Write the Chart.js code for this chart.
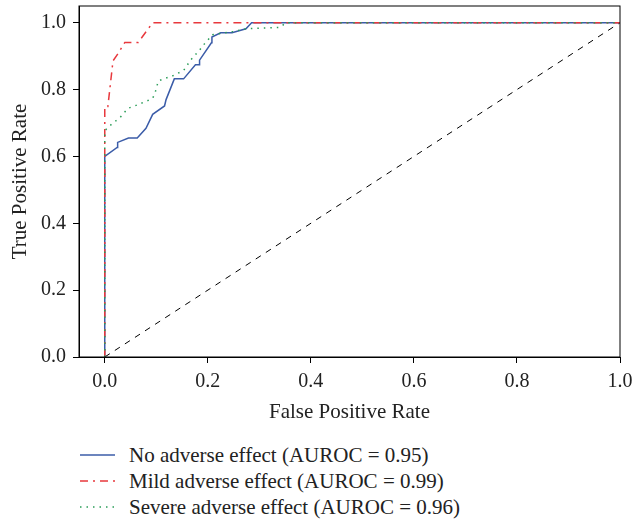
<!DOCTYPE html>
<html>
<head>
<meta charset="utf-8">
<script src="https://cdn.jsdelivr.net/npm/chart.js@4.4.0/dist/chart.umd.min.js"></script>
<style>
  body { margin: 0; background: #fff; overflow: hidden; }
  #wrap { position: relative; width: 632px; height: 522px; }
  #chartBox { position: absolute; left: 0; top: 0; width: 632px; height: 432px; }
  #legend { position: absolute; left: 80px; top: 442px; font-family: "Liberation Serif", serif; font-size: 21px; color: #222; }
  .row { height: 26px; line-height: 26px; white-space: nowrap; }
  .row svg { vertical-align: top; margin-right: 14px; }
</style>
</head>
<body>
<div id="wrap">
  <div id="chartBox"><canvas id="myChart"></canvas></div>
  <div id="legend"></div>
</div>
<script>
var fontFamily = '"Liberation Serif", "Times New Roman", serif';

var xTicks = [0, 0.2, 0.4, 0.6, 0.8, 1.0];
var yTicks = [0, 0.2, 0.4, 0.6, 0.8, 1.0];

var seriesNames = [
  'No adverse effect (AUROC = 0.95)',
  'Mild adverse effect (AUROC = 0.99)',
  'Severe adverse effect (AUROC = 0.96)'
];

// ROC points
var noFpr = [0, 0, 0.024, 0.025, 0.046, 0.063, 0.080, 0.093, 0.116, 0.119, 0.135, 0.153, 0.176, 0.183, 0.184, 0.207, 0.208, 0.225, 0.247, 0.274, 0.285, 1.0];
var noTpr = [0, 0.600, 0.627, 0.642, 0.655, 0.655, 0.684, 0.726, 0.751, 0.770, 0.832, 0.832, 0.874, 0.874, 0.888, 0.940, 0.957, 0.970, 0.970, 0.982, 1.0, 1.0];

var mildFpr = [0, 0, 0.006, 0.016, 0.025, 0.039, 0.065, 0.093, 1.0];
var mildTpr = [0, 0.749, 0.749, 0.886, 0.906, 0.941, 0.941, 1.0, 1.0];

var severeFpr = [0, 0, 0.010, 0.030, 0.045, 0.058, 0.082, 0.093, 0.098, 0.104, 0.122, 0.129, 0.142, 0.153, 0.160, 0.167, 0.184, 0.193, 0.209, 0.249, 0.275, 0.340, 0.352, 1.0];
var severeTpr = [0, 0.677, 0.692, 0.717, 0.744, 0.751, 0.766, 0.774, 0.792, 0.826, 0.836, 0.839, 0.849, 0.857, 0.873, 0.889, 0.918, 0.936, 0.964, 0.974, 0.982, 0.986, 1.0, 1.0];

var chanceFpr = [0, 1];
var chanceTpr = [0, 1];

function points(xs, ys) {
  return xs.map(function (v, i) {
    return { x: v, y: ys[i] };
  });
}

var boxPlugin = {
  id: 'box',
  afterDatasetsDraw: function (chart) {
    var a = chart.chartArea;
    var ctx = chart.ctx;
    ctx.save();
    ctx.strokeStyle = '#000';
    ctx.lineWidth = 1;
    ctx.strokeRect(a.left, a.top, a.right - a.left, a.bottom - a.top);
    ctx.restore();
  }
};

var config = {
  type: 'line',
  data: {
    datasets: [{
      label: seriesNames[0],
      data: points(noFpr, noTpr),
      borderColor: '#3b5ca8',
      borderWidth: 1.5,
      order: 2
    }, {
      label: seriesNames[1],
      data: points(mildFpr, mildTpr),
      borderColor: '#e8383d',
      borderWidth: 1.5,
      borderDash: [8, 5, 2, 5],
      order: 1
    }, {
      label: seriesNames[2],
      data: points(severeFpr, severeTpr),
      borderColor: '#2a9d58',
      borderWidth: 1.5,
      borderDash: [1.5, 5],
      order: 0
    }, {
      label: '',
      data: points(chanceFpr, chanceTpr),
      borderColor: '#000',
      borderWidth: 1,
      borderDash: [6, 6],
      order: 3
    }]
  },
  options: {
    responsive: true,
    maintainAspectRatio: false,
    animation: false,
    layout: { padding: { top: 6, left: 0, right: 0, bottom: 0 } },
    elements: {
      point: { radius: 0, hoverRadius: 0 },
      line: { tension: 0, fill: false }
    },
    plugins: {
      legend: { display: false },
      tooltip: { enabled: false }
    },
    scales: {
      x: {
        type: 'linear',
        min: -0.05,
        max: 1.0,
        afterBuildTicks: function (axis) {
          axis.ticks = xTicks.map(function (v) { return { value: v }; });
        },
        afterFit: function (axis) {
          axis.height = 75;
          // let the last label run off the edge like the original
          axis.paddingLeft = 0;
          axis.paddingRight = 12;
        },
        grid: { display: true, drawOnChartArea: false, drawTicks: true, tickLength: 6, tickColor: '#000', color: '#000' },
        border: { display: true, color: '#000' },
        ticks: {
          padding: 7,
          color: '#222',
          maxRotation: 0,
          autoSkip: false,
          font: { family: fontFamily, size: 20 },
          callback: function (v) { return Number(v).toFixed(1); }
        },
        title: {
          display: true,
          text: 'False Positive Rate',
          color: '#222',
          font: { family: fontFamily, size: 21 },
          padding: { top: 0, bottom: 7 }
        }
      },
      y: {
        type: 'linear',
        min: 0,
        max: 1.05,
        afterBuildTicks: function (axis) {
          axis.ticks = yTicks.map(function (v) { return { value: v }; });
        },
        afterFit: function (axis) {
          axis.width = 79;
          axis.paddingTop = 0;
          axis.paddingBottom = 0;
        },
        grid: { display: true, drawOnChartArea: false, drawTicks: true, tickLength: 6, tickColor: '#000', color: '#000' },
        border: { display: true, color: '#000' },
        ticks: {
          padding: 7,
          color: '#222',
          autoSkip: false,
          font: { family: fontFamily, size: 20 },
          callback: function (v) { return Number(v).toFixed(1); }
        },
        title: {
          display: true,
          text: 'True Positive Rate',
          color: '#222',
          font: { family: fontFamily, size: 21 },
          padding: { top: 8, bottom: 0 }
        }
      }
    }
  },
  plugins: [boxPlugin]
};

var chart = new Chart(document.getElementById('myChart'), config);

// html legend, one row per named series
function buildLegend(chart) {
  var box = document.getElementById('legend');
  chart.data.datasets.forEach(function (ds) {
    if (!ds.label) return;
    var row = document.createElement('div');
    row.className = 'row';
    var dash = ds.borderDash ? ds.borderDash.join(' ') : 'none';
    row.innerHTML = '<svg width="35" height="26"><line x1="0" y1="13" x2="35" y2="13" stroke="' + ds.borderColor +
      '" stroke-width="' + ds.borderWidth + '" stroke-dasharray="' + dash + '"/></svg>';
    var span = document.createElement('span');
    span.textContent = ds.label;
    row.appendChild(span);
    box.appendChild(row);
  });
}
buildLegend(chart);
</script>
</body>
</html>
